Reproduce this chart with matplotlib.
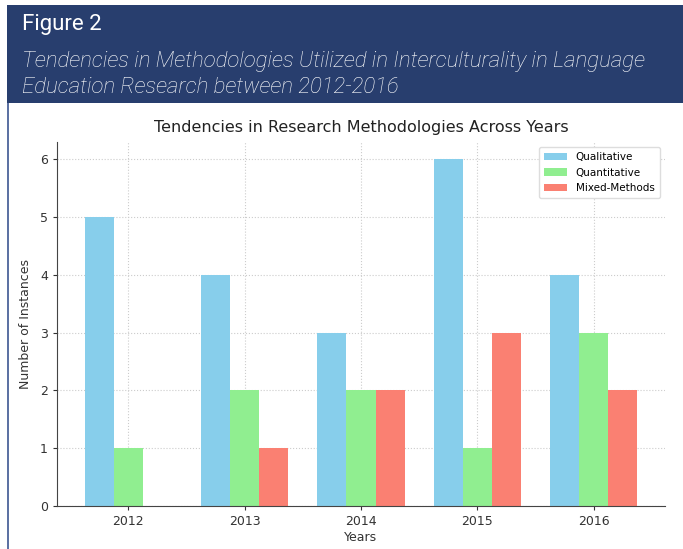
import matplotlib
matplotlib.use("Agg")
import matplotlib.pyplot as plt
import numpy as np
from matplotlib.patches import Rectangle

years = ["2012", "2013", "2014", "2015", "2016"]
qualitative = [5, 4, 3, 6, 4]
quantitative = [1, 2, 2, 1, 3]
mixed = [0, 1, 2, 3, 2]

fig = plt.figure(figsize=(6.83, 5.49), dpi=100)
W, H = 683.0, 549.0

# header band and frame
fig.patches.append(Rectangle((7 / W, 1 - 103 / H), 1, 98 / H, transform=fig.transFigure,
                             facecolor="#283e6e", edgecolor="none", zorder=0))
fig.patches.append(Rectangle((7 / W, 0), 1.6 / W, 1 - 103 / H, transform=fig.transFigure,
                             facecolor="#5d72a3", edgecolor="none", zorder=0))

fig.text(22 / W, 1 - 30 / H, "Figure 2", color="white", fontsize=16,
         family="Roboto", va="baseline")
fig.text(22 / W, 1 - 67 / H, "Tendencies in Methodologies Utilized in Interculturality in Language",
         color="white", fontsize=16, family="Roboto", style="italic", weight="light", va="baseline")
fig.text(22 / W, 1 - 93 / H, "Education Research between 2012-2016",
         color="white", fontsize=16, family="Roboto", style="italic", weight="light", va="baseline")

ax = fig.add_axes([57 / W, 1 - 506 / H, (665 - 57) / W, (506 - 142) / H])

x = np.arange(len(years))
w = 0.25
ax.bar(x - w, qualitative, w, color="skyblue", label="Qualitative", zorder=2)
ax.bar(x, quantitative, w, color="lightgreen", label="Quantitative", zorder=2)
ax.bar(x + w, mixed, w, color="salmon", label="Mixed-Methods", zorder=2)

ax.set_xticks(x)
ax.set_xticklabels(years)
ax.set_ylim(0, 6.3)
ax.set_xlim(-0.6125, 4.6125)
ax.set_yticks(range(7))
ax.tick_params(labelsize=9, colors="#333333", length=3)
ax.grid(True, linestyle=":", color="#cccccc", linewidth=0.8, zorder=0)
ax.set_axisbelow(True)
for s in ["top", "right"]:
    ax.spines[s].set_visible(False)
for s in ["left", "bottom"]:
    ax.spines[s].set_color("#444444")

ax.set_title("Tendencies in Research Methodologies Across Years", fontsize=11.5,
             color="#222222", pad=7)
ax.set_xlabel("Years", fontsize=9, color="#333333", labelpad=2)
ax.set_ylabel("Number of Instances", fontsize=9, color="#333333", labelpad=6)
ax.legend(loc="upper right", fontsize=7.5, frameon=True, framealpha=1,
          edgecolor="#dddddd", handlelength=2.2, borderpad=0.5)

fig.savefig("out.png", dpi=100)
